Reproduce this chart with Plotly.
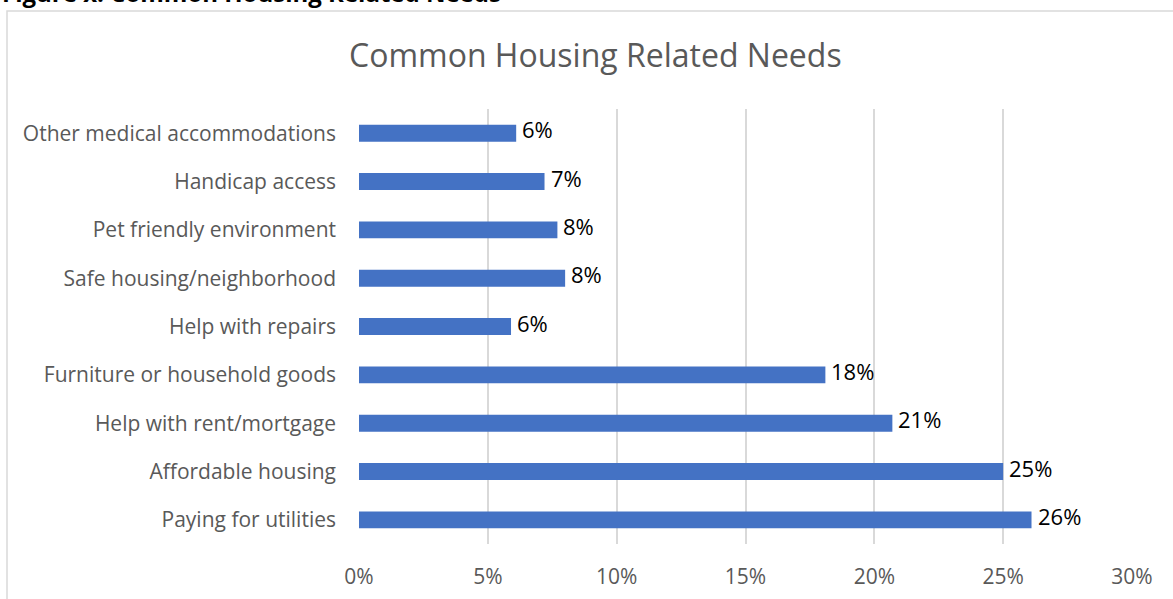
import plotly.graph_objects as go

# Survey results: share of respondents reporting each housing need
categories = [
    "Paying for utilities",
    "Affordable housing",
    "Help with rent/mortgage",
    "Furniture or household goods",
    "Help with repairs",
    "Safe housing/neighborhood",
    "Pet friendly environment",
    "Handicap access",
    "Other medical accommodations",
]
shares = [0.261, 0.250, 0.207, 0.181, 0.059, 0.080, 0.077, 0.072, 0.061]
x_ticks = [0, 0.05, 0.10, 0.15, 0.20, 0.25, 0.30]
x_tick_labels = ["0%", "5%", "10%", "15%", "20%", "25%", "30%"]

FONT = "Open Sans, sans-serif"
W, H = 1173, 599
L, R, T, B = 359, 41, 109, 55
pw, ph = W - L - R, H - T - B


def px_x(p):
    return (p - L) / pw


def px_y(p):
    return (H - B - p) / ph


fig = go.Figure(
    go.Bar(
        x=shares,
        y=categories,
        orientation="h",
        marker=dict(color="#4472C4", line=dict(width=0)),
        hoverinfo="skip",
    )
)

# value labels just past the end of each bar, sitting slightly high
value_labels = [
    dict(
        text=f"{round(v * 100)}%",
        x=v, y=c, xref="x", yref="y",
        xanchor="left", yanchor="middle",
        xshift=4, yshift=4,
        showarrow=False,
        font=dict(family=FONT, size=22, color="#000000"),
    )
    for c, v in zip(categories, shares)
]

fig.update_layout(
    width=W,
    height=H,
    margin=dict(l=L, r=R, t=T, b=B, autoexpand=False),
    paper_bgcolor="white",
    plot_bgcolor="white",
    bargap=0.65,
    showlegend=False,
    font=dict(family=FONT, color="#595959"),
    xaxis=dict(
        range=[0, 0.30],
        tickvals=x_ticks,
        ticktext=x_tick_labels,
        showgrid=True,
        gridcolor="#D9D9D9",
        gridwidth=1.5,
        zeroline=False,
        showline=False,
        ticks="",
        tickfont=dict(size=21, color="#595959"),
        ticklabelstandoff=18,
        automargin=False,
    ),
    yaxis=dict(
        showgrid=False,
        zeroline=False,
        showline=False,
        ticks="",
        tickfont=dict(size=21, color="#595959"),
        ticklabelstandoff=22,
        automargin=False,
    ),
    shapes=[
        dict(
            type="rect", xref="paper", yref="paper",
            x0=px_x(7), x1=px_x(1190), y0=px_y(620), y1=px_y(11),
            line=dict(color="#D9D9D9", width=1.5), fillcolor="rgba(0,0,0,0)",
            layer="below",
        )
    ],
    annotations=[
        dict(
            text="Common Housing Related Needs",
            xref="paper", yref="paper",
            x=px_x(595), y=px_y(55),
            xanchor="center", yanchor="middle",
            showarrow=False,
            font=dict(family=FONT, size=32, color="#595959"),
        ),
        dict(
            text="<b>Figure x. Common Housing Related Needs</b>",
            xref="paper", yref="paper",
            x=px_x(0), y=px_y(11),
            xanchor="left", yanchor="bottom",
            showarrow=False,
            font=dict(family=FONT, size=24, color="#000000"),
        ),
    ] + value_labels,
)

fig.write_html("out.html")
